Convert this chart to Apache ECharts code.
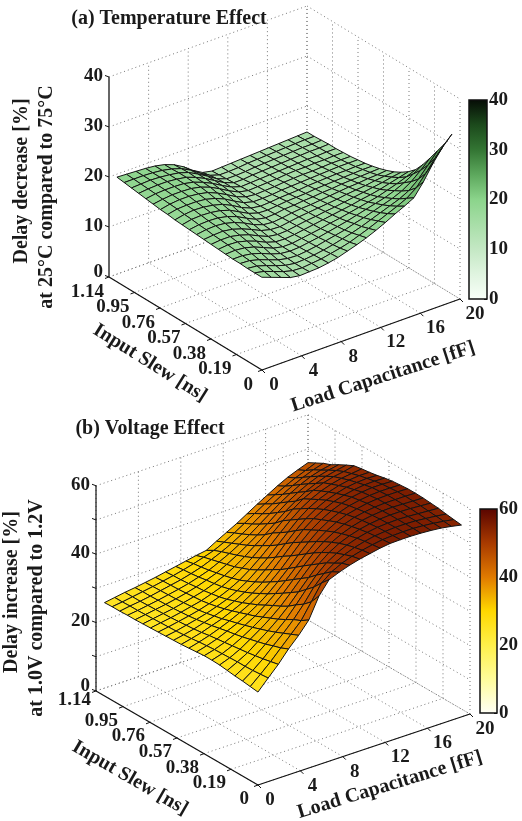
<!DOCTYPE html>
<html><head><meta charset="utf-8">
<style>html,body{margin:0;padding:0;background:#fff}#c{width:522px;height:821px}</style>
<script src="https://cdn.jsdelivr.net/npm/echarts@6/dist/echarts.min.js"></script>
</head><body><div id="c"></div>
<script>
const loadValues=[0.8,1.76,2.72,3.68,4.64,5.6,6.56,7.52,8.48,9.44,10.4,11.36,12.32,13.28,14.24,15.2,16.16,17.12,18.08,19.04,20];
const slewValues=[0.06,0.114,0.168,0.222,0.276,0.33,0.384,0.438,0.492,0.546,0.6,0.654,0.708,0.762,0.816,0.87,0.924,0.978,1.032,1.086,1.14];
const loadTicks=[0,4,8,12,16,20];
const slewTicks=[0,0.19,0.38,0.57,0.76,0.95,1.14];
const slewTickLabels=['0','0.19','0.38','0.57','0.76','0.95','1.14'];
const tempTicks=[0,10,20,30,40];
const voltTicks=[0,10,20,30,40,50,60];
const voltTickLabels=['0','','20','','40','','60'];
const tempColors=['#f8fff8','#e0f4e0','#c4e8c4','#a8dea8','#8bd48b','#5da85d','#337533','#1c4a1c','#060d06'];
const voltColors=['#fffff5','#fffc9a','#fff04a','#ffd800','#e07a00','#a83a00','#5a0500'];
const temperatureDelay=[
[17.0,16.3,15.6,14.9,14.6,14.7,14.8,15.1,15.5,16.1,16.7,17.4,18.2,19.1,20.1,21.0,22.0,24.5,27.5,30.0,32.0],
[17.0,16.6,15.9,15.2,14.7,14.6,14.8,15.0,15.4,15.8,16.3,17.0,17.7,18.5,19.3,20.1,21.0,22.4,24.6,27.0,29.2],
[17.0,16.8,16.2,15.5,14.9,14.6,14.7,14.9,15.2,15.6,16.1,16.6,17.2,17.9,18.6,19.3,20.0,21.0,22.6,24.7,26.9],
[17.1,17.0,16.5,15.8,15.1,14.7,14.6,14.8,15.1,15.5,15.9,16.3,16.9,17.4,18.0,18.6,19.2,20.0,21.2,22.8,24.6],
[17.1,17.1,16.8,16.2,15.4,14.8,14.6,14.7,15.0,15.3,15.7,16.1,16.5,17.0,17.5,18.0,18.5,19.2,20.1,21.2,22.4],
[17.2,17.3,17.1,16.6,15.8,15.0,14.6,14.6,14.9,15.2,15.5,15.9,16.2,16.6,17.0,17.4,17.8,18.4,19.0,19.7,20.5],
[17.3,17.5,17.4,16.9,16.2,15.3,14.7,14.6,14.8,15.1,15.4,15.7,16.0,16.3,16.6,17.0,17.3,17.7,18.2,18.7,19.2],
[17.4,17.6,17.6,17.2,16.6,15.7,14.9,14.6,14.7,15.0,15.3,15.5,15.8,16.0,16.3,16.6,16.9,17.2,17.5,17.9,18.2],
[17.5,17.7,17.8,17.5,16.9,16.1,15.2,14.7,14.6,14.9,15.2,15.4,15.6,15.8,16.0,16.3,16.5,16.7,17.0,17.2,17.4],
[17.6,17.9,18.0,17.8,17.3,16.5,15.5,14.8,14.6,14.8,15.1,15.3,15.4,15.6,15.8,16.0,16.2,16.3,16.5,16.6,16.8],
[17.7,18.0,18.1,18.0,17.6,16.9,15.9,15.0,14.6,14.7,15.0,15.1,15.3,15.4,15.6,15.7,15.9,16.0,16.1,16.2,16.3],
[17.8,18.2,18.3,18.2,17.9,17.3,16.3,15.3,14.7,14.6,14.8,15.0,15.1,15.2,15.4,15.5,15.6,15.7,15.8,15.9,15.9],
[17.9,18.3,18.5,18.4,18.1,17.6,16.7,15.6,14.8,14.5,14.6,14.8,14.9,15.0,15.2,15.3,15.4,15.5,15.5,15.6,15.6],
[18.1,18.5,18.6,18.6,18.4,17.9,17.1,16.0,15.0,14.5,14.5,14.6,14.8,14.9,15.0,15.1,15.2,15.3,15.4,15.4,15.4],
[18.2,18.6,18.8,18.8,18.6,18.2,17.4,16.4,15.3,14.6,14.4,14.5,14.6,14.8,14.9,15.0,15.0,15.1,15.2,15.2,15.2],
[18.4,18.7,18.9,18.9,18.8,18.4,17.7,16.7,15.6,14.7,14.3,14.4,14.5,14.6,14.8,14.9,14.9,15.0,15.0,15.1,15.1],
[18.6,18.9,19.0,19.0,18.9,18.5,17.8,16.9,15.8,14.8,14.2,14.3,14.4,14.5,14.6,14.7,14.8,14.9,14.9,15.0,15.0],
[18.8,19.0,19.1,19.1,18.9,18.6,17.9,17.0,15.9,14.8,14.1,14.1,14.3,14.4,14.5,14.6,14.7,14.8,14.9,14.9,15.0],
[19.0,19.1,19.2,19.1,18.9,18.6,18.0,17.0,15.9,14.7,14.0,14.0,14.1,14.3,14.4,14.5,14.6,14.7,14.8,14.8,14.9],
[19.2,19.2,19.2,19.1,18.9,18.5,17.9,16.9,15.6,14.5,13.9,13.9,14.0,14.2,14.3,14.4,14.5,14.6,14.7,14.8,14.8],
[19.4,19.3,19.2,19.1,18.9,18.5,17.8,16.7,15.3,14.2,13.8,13.9,14.0,14.1,14.2,14.3,14.4,14.5,14.6,14.7,14.8]];
const voltageDelay=[
[24.9,28.0,31.0,34.5,37.5,41.0,47.0,50.8,52.0,53.0,53.8,54.4,55.0,55.4,55.5,55.5,55.4,55.2,54.9,54.4,53.8],
[25.2,27.8,30.5,33.5,36.5,39.5,44.0,48.5,50.8,52.3,53.3,54.1,54.7,55.2,55.4,55.5,55.5,55.3,55.0,54.6,54.1],
[25.5,27.6,30.0,32.8,35.5,38.5,42.0,46.0,49.0,51.0,52.5,53.6,54.4,55.0,55.3,55.5,55.5,55.4,55.1,54.8,54.4],
[25.7,27.5,29.6,32.0,34.5,37.2,40.5,44.0,47.2,49.8,51.6,53.0,54.0,54.7,55.2,55.4,55.5,55.4,55.2,55.0,54.8],
[26.0,27.5,29.2,31.4,33.6,36.0,38.8,42.0,45.2,48.2,50.5,52.2,53.4,54.3,54.9,55.3,55.5,55.5,55.4,55.2,55.0],
[26.3,27.4,28.9,30.8,32.8,35.0,37.5,40.5,43.6,46.6,49.2,51.2,52.7,53.8,54.6,55.1,55.4,55.5,55.4,55.3,55.2],
[26.4,27.3,28.6,30.2,32.0,34.0,36.4,39.0,42.0,45.0,47.8,50.1,51.9,53.2,54.2,54.8,55.2,55.4,55.4,55.4,55.3],
[26.4,27.2,28.3,29.7,31.3,33.0,35.2,37.6,40.4,43.3,46.2,48.8,50.9,52.5,53.7,54.4,55.0,55.3,55.4,55.4,55.3],
[26.2,27.0,28.0,29.3,30.6,32.2,34.0,36.2,38.8,41.6,44.6,47.4,49.8,51.6,53.0,54.0,54.6,55.0,55.2,55.2,55.1],
[26.0,26.8,27.7,28.8,30.0,31.4,33.0,35.0,37.4,40.0,43.0,46.0,48.6,50.6,52.2,53.4,54.2,54.7,55.0,55.0,54.9],
[25.8,26.5,27.3,28.3,29.3,30.6,32.0,33.8,36.0,38.7,41.6,44.6,47.4,49.6,51.3,52.6,53.5,54.1,54.5,54.6,54.5],
[25.7,26.3,27.0,27.9,28.8,29.9,31.2,32.8,34.8,37.3,40.0,43.0,45.8,48.3,50.2,51.7,52.7,53.5,53.9,54.1,54.0],
[25.6,26.1,26.8,27.5,28.3,29.3,30.4,31.9,33.7,36.0,38.5,41.3,44.1,46.8,49.0,50.6,51.8,52.7,53.3,53.6,53.6],
[25.5,26.0,26.6,27.2,27.9,28.8,29.8,31.1,32.7,34.8,37.2,39.8,42.6,45.3,47.6,49.4,50.8,51.8,52.5,52.9,53.3],
[25.4,25.9,26.4,27.0,27.7,28.4,29.4,30.5,32.0,33.9,36.0,38.5,41.2,43.8,46.2,48.2,49.7,50.9,51.7,52.2,52.9],
[25.3,25.8,26.3,26.8,27.5,28.2,29.0,30.1,31.4,33.0,35.0,37.2,39.4,41.8,44.2,46.2,48.0,49.4,50.5,51.2,51.8],
[25.2,25.7,26.2,26.7,27.3,28.0,28.8,29.8,30.9,32.4,34.1,36.0,38.0,40.3,42.6,44.7,46.5,48.0,49.2,50.0,50.6],
[25.2,25.6,26.1,26.6,27.2,27.8,28.5,29.4,30.4,31.8,33.3,35.0,36.8,38.9,41.0,43.1,44.9,46.5,47.8,48.7,49.3],
[25.1,25.6,26.0,26.5,27.1,27.7,28.3,29.1,30.0,31.2,32.5,34.0,35.7,37.6,39.6,41.5,43.3,44.9,46.3,47.5,48.4],
[25.1,25.5,26.0,26.5,27.0,27.6,28.2,28.9,29.7,30.6,31.6,33.0,34.7,36.5,38.4,40.2,41.9,43.4,44.8,46.0,47.2],
[25.0,25.5,26.0,26.4,26.9,27.4,28.0,28.6,29.2,29.8,30.3,32.0,33.6,35.2,37.0,38.8,40.5,42.2,43.7,44.9,46.0]];

// view frames: screen position of the origin corner and px per data unit
const frameA={ox:262,oy:370,lx:9.9,ly:-3.55,sx:-134.2,sy:-81.6,zk:5,zMax:40,zAxisColor:'#666',zAxisWidth:2};
const frameB={ox:258,oy:785,lx:10.6,ly:-3.55,sx:-142.1,sy:-82.5,zk:3.42,zMax:60,zAxisColor:'#111',zAxisWidth:1.2};
const LMAX=20,SMAX=1.14;
const proj=(f,l,s,z)=>[f.ox+l*f.lx+s*f.sx, f.oy+l*f.ly+s*f.sy-z*f.zk];
const FONT='bold 19px "Liberation Serif"', TITLE='bold 20px "Liberation Serif"', INK='#1a1a1a';
const line=(a,b,c,w,dash)=>({type:'line',shape:{x1:a[0],y1:a[1],x2:b[0],y2:b[1]},style:{stroke:c,lineWidth:w,lineDash:dash||null}});
const text=(t,x,y,opt)=>({type:'text',x,y,rotation:(opt&&opt.rot||0),style:{text:t,font:(opt&&opt.font)||FONT,fill:INK,textAlign:(opt&&opt.align)||'center',textVerticalAlign:'middle'}});

function frameItems(f,zTicks){
  const els=[],G='#777',D=[1,3];
  zTicks.forEach(z=>{
    els.push(line(proj(f,0,SMAX,z),proj(f,LMAX,SMAX,z),G,1,D));
    els.push(line(proj(f,LMAX,SMAX,z),proj(f,LMAX,0,z),G,1,D));
  });
  loadTicks.forEach(l=>{
    els.push(line(proj(f,l,SMAX,0),proj(f,l,SMAX,f.zMax),G,1,D));
    els.push(line(proj(f,l,0,0),proj(f,l,SMAX,0),G,1,D));
  });
  slewTicks.forEach(s=>{
    els.push(line(proj(f,LMAX,s,0),proj(f,LMAX,s,f.zMax),G,1,D));
    els.push(line(proj(f,0,s,0),proj(f,LMAX,s,0),G,1,D));
  });
  return els;
}
function axisItems(f,zTicks,zLabels,cfg){
  const els=[];
  els.push(line(proj(f,0,SMAX,0),proj(f,0,SMAX,f.zMax),f.zAxisColor,f.zAxisWidth));
  els.push(line(proj(f,0,0,0),proj(f,LMAX,0,0),'#111',1.2));
  els.push(line(proj(f,0,0,0),proj(f,0,SMAX,0),'#111',1.2));
  zTicks.forEach((z,i)=>{
    const p=proj(f,0,SMAX,z);
    els.push(line(p,[p[0]-4,p[1]-1.5],'#111',1));
    if(zLabels[i]) els.push(text(zLabels[i],p[0]-6,p[1]+(z===0?-5:-1),{align:'right'}));
  });
  loadTicks.forEach(l=>{
    const p=proj(f,l,0,0);
    els.push(line(p,[p[0]+3,p[1]+3],'#111',1));
    els.push(text(String(l),p[0]+(l>=12?15:12),p[1]+15));
  });
  slewTicks.forEach((s,i)=>{
    const p=proj(f,0,s,0);
    els.push(line(p,[p[0]-4,p[1]+1.5],'#111',1));
    els.push(text(slewTickLabels[i],p[0]+(s===0?-9:-5),p[1]+(s===SMAX?cfg.topSlewDy:cfg.slewDy),{align:'right'}));
  });
  cfg.titles.forEach(t=>els.push(text(t.t,t.x,t.y,{rot:(t.r||0)*Math.PI/180,font:TITLE})));
  return els;
}
function faces(rows){
  const out=[];
  for(let i=loadValues.length-2;i>=0;i--)for(let j=slewValues.length-2;j>=0;j--){
    out.push([i,j,(rows[j][i]+rows[j][i+1]+rows[j+1][i]+rows[j+1][i+1])/4]);
  }
  return out;
}
const surface=(f,rows)=>({
  type:'custom',coordinateSystem:'none',dimensions:['i','j','z'],data:faces(rows),silent:true,animation:false,
  renderItem(p,api){
    const i=api.value(0),j=api.value(1),P=(a,b)=>proj(f,loadValues[a],slewValues[b],rows[b][a]);
    return {type:'polygon',shape:{points:[P(i,j),P(i+1,j),P(i+1,j+1),P(i,j+1)]},
      style:{fill:api.visual('color'),stroke:'#141414',lineWidth:1,lineJoin:'round'}};
  }
});
const once=(build)=>({type:'custom',coordinateSystem:'none',data:[0],silent:true,animation:false,
  renderItem(){return {type:'group',children:build()};}});
const cfgA={slewDy:15,topSlewDy:15,titles:[
 {t:'(a) Temperature Effect',x:169,y:19},
 {t:'Delay decrease [%]',x:22,y:181,r:90},
 {t:'at 25°C compared to 75°C',x:47,y:197,r:90},
 {t:'Input Slew [ns]',x:150,y:363,r:-32},
 {t:'Load Capacitance [fF]',x:383,y:377,r:18}]};
const cfgB={slewDy:14,topSlewDy:9,titles:[
 {t:'(b) Voltage Effect',x:150,y:429},
 {t:'Delay increase [%]',x:12,y:592,r:90},
 {t:'at 1.0V compared to 1.2V',x:37,y:608,r:90},
 {t:'Input Slew [ns]',x:130,y:778,r:-30},
 {t:'Load Capacitance [fF]',x:390,y:785,r:17}]};
const grad=(cols)=>new echarts.graphic.LinearGradient(0,1,0,0,cols.map((c,i)=>({offset:i/(cols.length-1),color:c})));
const barGrid=(l,t,w,h)=>({left:l,top:t,width:w,height:h,show:true,borderColor:'#111',borderWidth:1.5,backgroundColor:'transparent',z:3});
const barX=(g)=>({type:'category',gridIndex:g,data:['c'],show:false});
const barY=(g,max,ticks,labels)=>({type:'value',gridIndex:g,min:0,max,interval:ticks[1]-ticks[0],position:'right',splitLine:{show:false},
  axisLine:{show:false},axisTick:{show:true,inside:true,length:3,lineStyle:{color:'#111'}},
  axisLabel:{margin:2,color:INK,fontFamily:'Liberation Serif',fontWeight:'bold',fontSize:19,formatter:v=>labels[ticks.indexOf(v)]}});
const colorBar=(g,max,cols)=>({type:'bar',xAxisIndex:g,yAxisIndex:g,data:[max],barWidth:'100%',silent:true,animation:false,itemStyle:{color:grad(cols)}});
const chart=echarts.init(document.getElementById('c'),null,{renderer:'canvas'});
chart.setOption({
  backgroundColor:'#fff',animation:false,
  grid:[barGrid(469,100,18,199),barGrid(480,509,17,204)],
  xAxis:[barX(0),barX(1)],
  yAxis:[barY(0,40,tempTicks,tempTicks.map(String)),barY(1,60,voltTicks,voltTickLabels)],
  visualMap:[
   {show:false,seriesIndex:3,dimension:2,min:0,max:40,inRange:{color:tempColors}},
   {show:false,seriesIndex:6,dimension:2,min:0,max:60,inRange:{color:voltColors}}],
  series:[
   colorBar(0,40,tempColors),colorBar(1,60,voltColors),
   once(()=>frameItems(frameA,tempTicks)),surface(frameA,temperatureDelay),
   once(()=>axisItems(frameA,tempTicks,tempTicks.map(String),cfgA)),
   once(()=>frameItems(frameB,voltTicks)),surface(frameB,voltageDelay),
   once(()=>axisItems(frameB,voltTicks,voltTickLabels,cfgB))]
});
</script></body></html>
